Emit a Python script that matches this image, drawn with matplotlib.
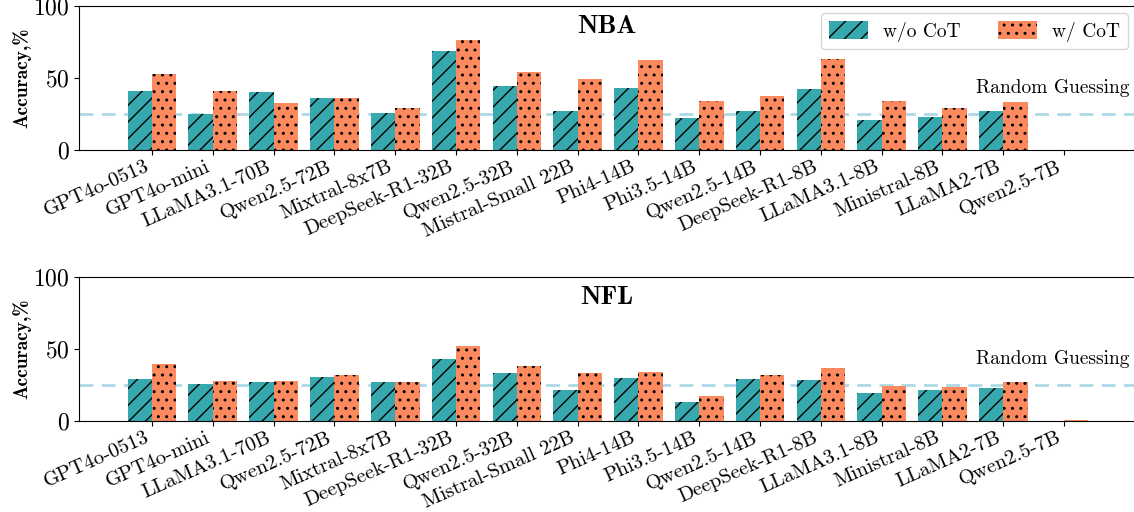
import matplotlib
matplotlib.use("Agg")
import matplotlib.pyplot as plt
import numpy as np

models = ["GPT4o-0513", "GPT4o-mini", "LLaMA3.1-70B", "Qwen2.5-72B", "Mixtral-8x7B",
          "DeepSeek-R1-32B", "Qwen2.5-32B", "Mistral-Small 22B", "Phi4-14B", "Phi3.5-14B",
          "Qwen2.5-14B", "DeepSeek-R1-8B", "LLaMA3.1-8B", "Ministral-8B", "LLaMA2-7B", "Qwen2.5-7B"]

nba_wo_cot = [41.0, 25.3, 40.2, 36.5, 26.0, 68.5, 44.6, 27.3, 43.1, 22.3, 27.3, 42.4, 20.6, 23.0, 27.3, 0.0]
nba_w_cot = [52.8, 41.0, 32.7, 36.5, 29.0, 76.6, 54.3, 49.1, 62.5, 34.0, 37.7, 63.2, 34.0, 29.0, 33.5, 0.0]

nfl_wo_cot = [29.0, 25.5, 26.7, 30.4, 26.7, 43.1, 33.4, 21.5, 29.7, 13.4, 29.0, 28.2, 19.3, 21.5, 23.0, 0.0]
nfl_w_cot = [39.4, 27.5, 27.5, 31.9, 26.7, 52.0, 37.9, 33.4, 34.2, 17.1, 31.9, 36.4, 24.5, 23.8, 26.7, 0.3]

random_guess = 25
panels = ["NBA", "NFL"]
legend_labels = ["w/o CoT", "w/ CoT"]

plt.rcParams['font.family'] = 'cmr10'
plt.rcParams['mathtext.fontset'] = 'cm'
plt.rcParams['axes.formatter.use_mathtext'] = True
plt.rcParams['hatch.linewidth'] = 1.0

teal = "#37A8AE"
orange = "#FC8A5E"

fig = plt.figure(figsize=(11.34, 5.12), dpi=100)
ax1 = fig.add_axes([0.0697, 0.707, 0.9303, 0.281])
ax2 = fig.add_axes([0.0697, 0.178, 0.9303, 0.281])

x = np.arange(len(models))
w = 0.4
for ax, wo, wc, name in [(ax1, nba_wo_cot, nba_w_cot, panels[0]), (ax2, nfl_wo_cot, nfl_w_cot, panels[1])]:
    ax.bar(x - w/2, wo, w, color=teal, hatch='//', edgecolor='black', linewidth=0, label=legend_labels[0])
    ax.bar(x + w/2, wc, w, color=orange, hatch='..', edgecolor='black', linewidth=0, label=legend_labels[1])
    ax.axhline(random_guess, color='#ADD8E6', linestyle=(0, (5, 3)), linewidth=2, zorder=0)
    ax.set_ylim(0, 100)
    ax.set_xlim(-1.2, 16.15)
    ax.set_yticks([0, 50, 100])
    ax.tick_params(axis='y', labelsize=17)
    ax.set_xticks(x)
    ax.set_xticklabels(models, rotation=24, ha='right', fontsize=14.8)
    ax.tick_params(axis='x', pad=2)
    ax.set_ylabel("Accuracy,%", fontsize=14, family='cmb10')
    ax.yaxis.set_label_coords(-0.045, 0.5)
    ax.spines['right'].set_visible(False)
    ax.text(0.5, 0.86, name, transform=ax.transAxes, ha='center', va='center', fontsize=19, family='cmb10')
    ax.text(0.996, 0.43, "Random Guessing", transform=ax.transAxes, ha='right', va='center', fontsize=14)

ax1.legend(loc='upper right', ncol=2, fontsize=14, frameon=True, handlelength=2.0, handleheight=1.0,
           handletextpad=0.8, columnspacing=1.9, borderaxespad=0.3, bbox_to_anchor=(1.0, 0.99))

fig.savefig("out.png", dpi=100)
